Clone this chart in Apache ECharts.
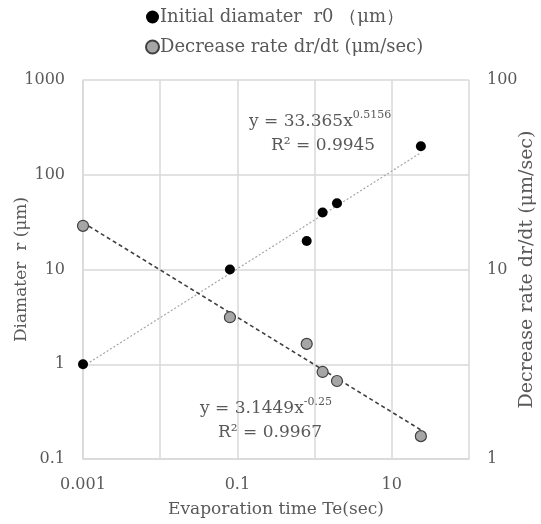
<!DOCTYPE html>
<html>
<head>
<meta charset="utf-8">
<script src="https://cdn.jsdelivr.net/npm/echarts@6/dist/echarts.min.js"></script>
<style>
html,body{margin:0;padding:0;background:#fff;}
#chart{width:541px;height:524px;}
</style>
</head>
<body>
<div id="chart"></div>
<script>
// Evaporation time Te (sec)
const evapTime = [0.001, 0.08, 0.79, 1.27, 1.95, 23.8];
// Initial diameter r0 (μm), left axis
const initialDiameter = [1, 10, 20, 40, 50, 200];
// Decrease rate dr/dt (μm/sec), right axis
const decreaseRate = [17.0, 5.6, 4.05, 2.88, 2.58, 1.32];

// Power-law trend coefficients y = a * x^b
const diamFit = { a: 33.365, b: 0.5156, r2: '0.9945' };
const rateFit = { a: 3.1449, b: -0.25, r2: '0.9967' };

const xTickLabels = ['0.001', '0.1', '10'];

const FONT = '"DejaVu Serif", "Liberation Serif", serif';
const TXT = '#595959';
const GRIDC = '#d9d9d9';

function pairs(xs, ys) { return xs.map((x, i) => [x, ys[i]]); }
// A power law is a straight line on log-log axes: its two ends are enough
function fitEnds(fit, xs) {
  const x0 = Math.min(...xs), x1 = Math.max(...xs);
  return [[x0, fit.a * Math.pow(x0, fit.b)], [x1, fit.a * Math.pow(x1, fit.b)]];
}
const num = v => String(+v.toPrecision(6));

const chart = echarts.init(document.getElementById('chart'));
chart.setOption({
  backgroundColor: '#fff',
  animation: false,
  textStyle: { fontFamily: FONT, color: TXT },
  legend: {
    orient: 'vertical',
    left: 140,
    top: 2,
    itemWidth: 13,
    itemHeight: 13,
    itemGap: 10,
    data: [
      { name: 'Initial diamater  r0 （μm）', icon: 'circle' },
      { name: 'Decrease rate dr/dt (μm/sec)', icon: 'circle' }
    ],
    textStyle: { fontFamily: FONT, fontSize: 18, lineHeight: 20, color: TXT, padding: [0, 0, 0, -4] }
  },
  grid: { left: 83, right: 72, top: 80, bottom: 65, containLabel: false, outerBoundsMode: 'none' },
  xAxis: {
    type: 'log', logBase: 10, min: 0.001, max: 100,
    name: 'Evaporation time Te(sec)',
    nameLocation: 'middle', nameGap: 42, nameMoveOverlap: false,
    nameTextStyle: { fontFamily: FONT, fontSize: 17, color: TXT },
    axisLine: { show: true, lineStyle: { color: GRIDC, width: 1.5 } },
    axisTick: { show: false },
    axisLabel: {
      fontFamily: FONT, fontSize: 16, color: TXT, margin: 18,
      formatter: v => (xTickLabels.includes(num(v)) ? num(v) : '')
    },
    splitLine: { show: true, lineStyle: { color: GRIDC, width: 1.5 } }
  },
  yAxis: [
    {
      type: 'log', logBase: 10, min: 0.1, max: 1000,
      name: 'Diamater  r (μm)',
      nameLocation: 'middle', nameGap: 53, nameRotate: 90, nameMoveOverlap: false,
      nameTextStyle: { fontFamily: FONT, fontSize: 17, color: TXT },
      axisLine: { show: true, lineStyle: { color: GRIDC, width: 1.5 } },
      axisTick: { show: false },
      axisLabel: { fontFamily: FONT, fontSize: 16, color: TXT, margin: 18, formatter: num },
      splitLine: { show: true, lineStyle: { color: GRIDC, width: 1.5 } }
    },
    {
      type: 'log', logBase: 10, min: 1, max: 100,
      name: 'Decrease rate dr/dt (μm/sec)',
      nameLocation: 'middle', nameGap: 49, nameRotate: 90, nameMoveOverlap: false,
      nameTextStyle: { fontFamily: FONT, fontSize: 19, color: TXT },
      axisLine: { show: false },
      axisTick: { show: false },
      axisLabel: { fontFamily: FONT, fontSize: 16, color: TXT, margin: 18, formatter: num },
      splitLine: { show: false }
    }
  ],
  series: [
    {
      name: 'diamFit', type: 'line', yAxisIndex: 0,
      data: fitEnds(diamFit, evapTime), symbol: 'none', silent: true,
      lineStyle: { color: '#a6a6a6', width: 1.2, type: [2, 2] }, z: 1
    },
    {
      name: 'rateFit', type: 'line', yAxisIndex: 1,
      data: fitEnds(rateFit, evapTime), symbol: 'none', silent: true,
      lineStyle: { color: '#404040', width: 1.6, type: [4, 3] }, z: 1
    },
    {
      name: 'Initial diamater  r0 （μm）', type: 'scatter', yAxisIndex: 0,
      data: pairs(evapTime, initialDiameter), symbol: 'circle', symbolSize: 10,
      itemStyle: { color: '#000000', opacity: 1 }, z: 3
    },
    {
      name: 'Decrease rate dr/dt (μm/sec)', type: 'scatter', yAxisIndex: 1,
      data: pairs(evapTime, decreaseRate), symbol: 'circle', symbolSize: 11,
      itemStyle: { color: '#a6a6a6', borderColor: '#404040', borderWidth: 1.2, opacity: 1 }, z: 3
    }
  ],
  graphic: [
    {
      type: 'text', left: 249, top: 110, z: 10,
      style: {
        text: '{b|y = 33.365x}{s|' + diamFit.b + '}\n{c|R² = ' + diamFit.r2 + '}',
        rich: {
          b: { fontFamily: FONT, fontSize: 17, fill: TXT, lineHeight: 24 },
          s: { fontFamily: FONT, fontSize: 11, fill: TXT, verticalAlign: 'top', padding: [0, 0, 10, 0] },
          c: { fontFamily: FONT, fontSize: 17, fill: TXT, lineHeight: 24, padding: [0, 0, 0, 22] }
        }
      }
    },
    {
      type: 'text', left: 200, top: 397, z: 10,
      style: {
        text: '{b|y = 3.1449x}{s|' + rateFit.b + '}\n{c|R² = ' + rateFit.r2 + '}',
        rich: {
          b: { fontFamily: FONT, fontSize: 17, fill: TXT, lineHeight: 24 },
          s: { fontFamily: FONT, fontSize: 11, fill: TXT, verticalAlign: 'top', padding: [0, 0, 10, 0] },
          c: { fontFamily: FONT, fontSize: 17, fill: TXT, lineHeight: 24, padding: [0, 0, 0, 18] }
        }
      }
    }
  ]
});
</script>
</body>
</html>
